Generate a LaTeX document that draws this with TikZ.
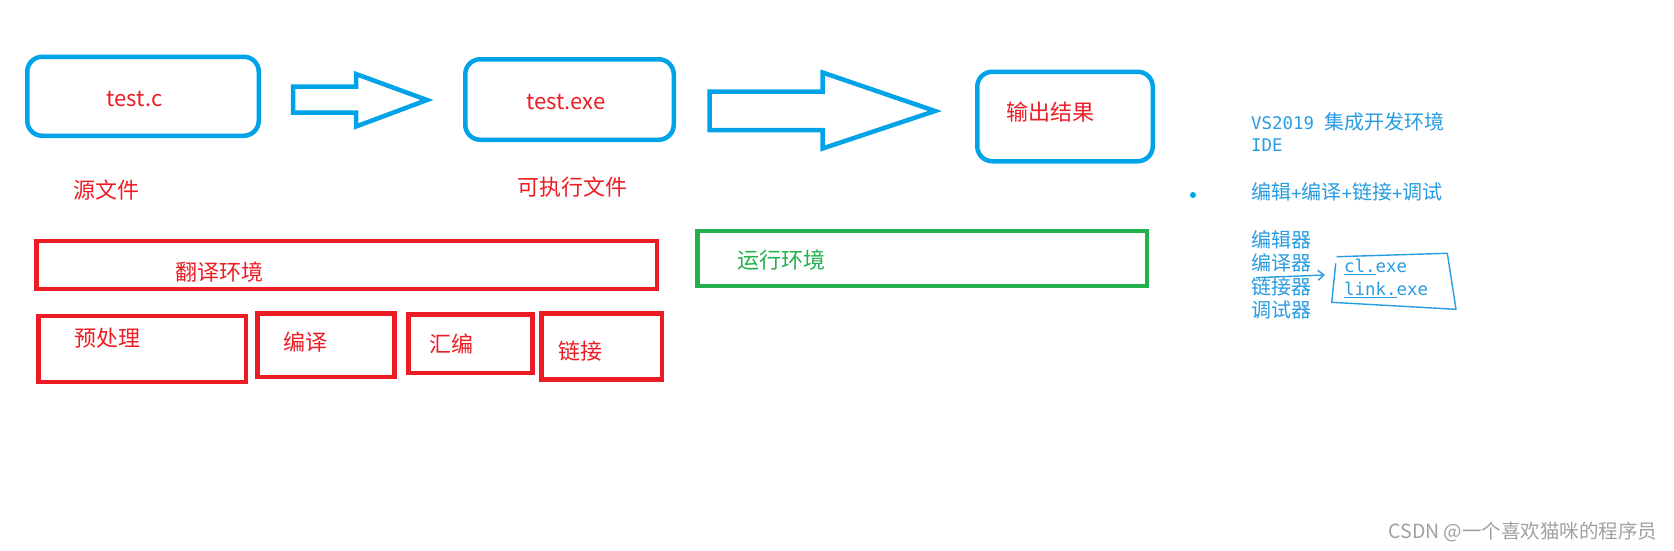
\documentclass[tikz,border=0pt]{standalone}
\usepackage{fontspec}
\usepackage{tikz}
\usetikzlibrary{arrows.meta}
\newfontfamily\cjk{Noto Sans CJK SC}
\newfontfamily\mono[Scale=0.87]{DejaVu Sans Mono}
\definecolor{paintblue}{RGB}{0,162,232}
\definecolor{paintred}{RGB}{237,28,36}
\definecolor{paintgreen}{RGB}{34,177,76}
\definecolor{notesblue}{RGB}{40,155,225}
\definecolor{markgray}{RGB}{160,160,160}

\begin{document}
\begin{tikzpicture}[x=1pt,y=-1pt,
  filebox/.style={draw=paintblue,line width=4.5pt,rounded corners=15pt,inner sep=0pt},
  envbox/.style={draw=#1,line width=4.5pt,inner sep=0pt},
  bigarrow/.style={draw=paintblue,line width=4.5pt},
  redtext/.style={text=paintred,font=\cjk\fontsize{22}{26}\selectfont,inner sep=0pt},
  notes/.style={text=notesblue,font=\cjk\fontsize{20}{24}\selectfont,anchor=west,inner sep=0pt},
  handline/.style={draw=notesblue,line width=1.4pt,line join=round}]
  \useasboundingbox (0,0) rectangle (1674,550);
  % files and result
  \node[filebox,minimum width=231.5pt,minimum height=79pt] (src) at (143,96.25) {};
  \node[filebox,minimum width=208.5pt,minimum height=80.5pt] (exe) at (569.5,99.5) {};
  \node[filebox,minimum width=175.5pt,minimum height=89.5pt] (out) at (1065,116.5) {};
  \node[redtext] (srcname) at (134.5,99) {test.c};
  \node[redtext] (exename) at (566,101.7) {test.exe};
  \node[redtext] (outname) at (1050,111.7) {输出结果};
  \node[redtext] (srclbl) at (106.7,190) {源文件};
  \node[redtext] (exelbl) at (572,186.7) {可执行文件};
  \draw[bigarrow] (293,86.7) -- (356,86.7) -- (356,74) -- (427,100) -- (356,126.5)
    -- (356,112.7) -- (293,112.7) -- cycle;
  \draw[bigarrow] (709.5,91.5) -- (822.5,91.5) -- (822.5,72.5) -- (935,111) -- (822.5,148.5)
    -- (822.5,130) -- (709.5,130) -- cycle;
  % environments
  \node[envbox=paintred,minimum width=620.5pt,minimum height=48pt] (trans) at (346.5,264.75) {};
  \node[envbox=paintgreen,minimum width=449.5pt,minimum height=55pt] (run) at (922,258.25) {};
  \node[redtext] (translbl) at (219.5,271.7) {翻译环境};
  \node[redtext,text=paintgreen] (runlbl) at (781,260) {运行环境};
  \foreach \name/\x/\y/\w/\h in {pre/142/348.75/207.5/66,comp/325.75/345/137/63.5,
      asm/470.25/343.5/124/58.5,link/601.5/346.25/120.5/66}
    \node[envbox=paintred,minimum width=\w pt,minimum height=\h pt] (\name) at (\x,\y) {};
  \foreach \name/\x/\y/\lbl in {prelbl/107.6/338.3/预处理,complbl/305/341.7/编译,
      asmlbl/451.5/344/汇编,linklbl/580.4/350.7/链接}
    \node[redtext] (\name) at (\x,\y) {\lbl};
  % notes on the right
  \node[circle,fill=paintblue,inner sep=0pt,minimum size=6pt] (dot) at (1193,195) {};
  \node[notes] (ide) at (1251,121.7) {{\mono VS2019 }集成开发环境};
  \node[notes] (idename) at (1251,145) {\mono IDE};
  \node[notes] (tasks) at (1251,191.7) {编辑{\mono +}编译{\mono +}链接{\mono +}调试};
  \node[notes] (editor) at (1251,240) {编辑器};
  \node[notes] (compiler) at (1251,263) {编译器};
  \node[notes] (linker) at (1251,287) {链接器};
  \node[notes] (debugger) at (1251,310) {调试器};
  \node[notes] (cl) at (1344,266.7) {\mono\underline{cl.}exe};
  \node[notes] (linkexe) at (1344,290) {\mono\underline{link.}exe};
  \coordinate (tail) at (1256,277.7);
  \coordinate (head) at (1325,275);
  \draw[handline,-{Straight Barb[length=6pt,width=10pt]}] (tail) -- (head);
  \draw[handline] (1336.7,256.7) -- (1447.3,253.3) -- (1456,309.3) -- (1331.7,302.3) -- (1335.7,263.3);
  \node[text=markgray,font=\cjk\fontsize{19.5}{23}\selectfont,inner sep=0pt] (mark) at (1523,531.7)
    {CSDN @一个喜欢猫咪的程序员};
\end{tikzpicture}
\end{document}
